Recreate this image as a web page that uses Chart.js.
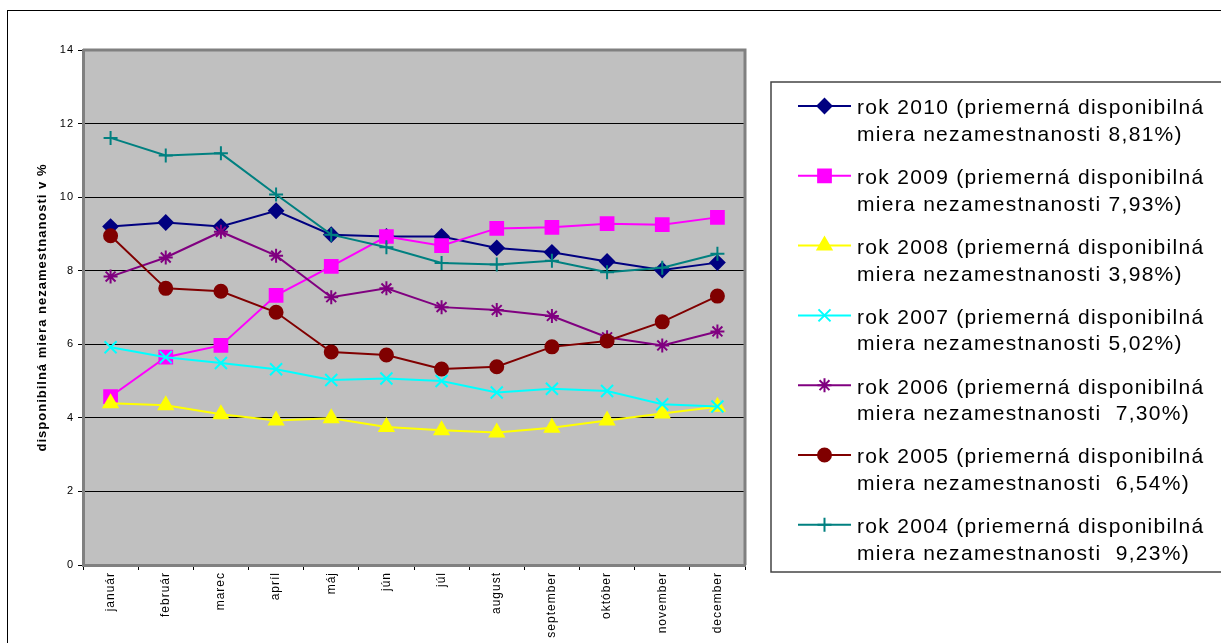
<!DOCTYPE html>
<html>
<head>
<meta charset="utf-8">
<script src="https://cdn.jsdelivr.net/npm/chart.js"></script>
<style>
    html, body { margin: 0; padding: 0; background: #fff; overflow: hidden; }
    #wrap { position: relative; width: 1221px; height: 643px; overflow: hidden; }
    #frame { position: absolute; left: 7px; top: 10px; width: 1300px; height: 700px; border: 1px solid #000; }
    #chart { position: absolute; left: 0; top: 0; }
</style>
</head>
<body>
<div id="wrap">
    <div id="frame"></div>
    <canvas id="chart" width="1221" height="643"></canvas>
</div>
<script>
const FONT = '"Liberation Sans", Arial, sans-serif';

const months = ['január', 'február', 'marec', 'apríl', 'máj', 'jún', 'júl', 'august', 'september', 'október', 'november', 'december'];

const rok2010 = [9.20, 9.31, 9.20, 9.63, 8.98, 8.93, 8.93, 8.62, 8.50, 8.25, 8.02, 8.22];
const rok2009 = [4.58, 5.65, 5.97, 7.33, 8.12, 8.93, 8.68, 9.15, 9.18, 9.28, 9.25, 9.45];
const rok2008 = [4.40, 4.34, 4.10, 3.93, 3.99, 3.75, 3.66, 3.60, 3.73, 3.93, 4.12, 4.30];
const rok2007 = [5.92, 5.65, 5.49, 5.32, 5.03, 5.07, 5.00, 4.69, 4.79, 4.73, 4.37, 4.31];
const rok2006 = [7.84, 8.36, 9.06, 8.41, 7.28, 7.52, 7.01, 6.93, 6.77, 6.19, 5.97, 6.35];
const rok2005 = [8.95, 7.52, 7.44, 6.87, 5.79, 5.71, 5.33, 5.39, 5.93, 6.09, 6.61, 7.31];
const rok2004 = [11.61, 11.13, 11.19, 10.07, 8.98, 8.64, 8.21, 8.17, 8.27, 7.96, 8.08, 8.46];

const seriesData = [rok2010, rok2009, rok2008, rok2007, rok2006, rok2005, rok2004];

const legendLabels = [
    ['rok 2010 (priemerná disponibilná', 'miera nezamestnanosti 8,81%)'],
    ['rok 2009 (priemerná disponibilná', 'miera nezamestnanosti 7,93%)'],
    ['rok 2008 (priemerná disponibilná', 'miera nezamestnanosti 3,98%)'],
    ['rok 2007 (priemerná disponibilná', 'miera nezamestnanosti 5,02%)'],
    ['rok 2006 (priemerná disponibilná', 'miera nezamestnanosti  7,30%)'],
    ['rok 2005 (priemerná disponibilná', 'miera nezamestnanosti  6,54%)'],
    ['rok 2004 (priemerná disponibilná', 'miera nezamestnanosti  9,23%)']
];

const yTitle = 'disponibilná miera nezamestnanosti v %';

// styles
const colors = ['#000080', '#ff00ff', '#ffff00', '#00ffff', '#800080', '#800000', '#008080'];
const markers = ['rectRot', 'rect', 'triangle', 'crossRot', 'star', 'circle', 'cross'];
const markerSize = [7, 9, 8, 8.5, 7, 6.5, 7];

const datasets = seriesData.map((d, i) => ({
    label: legendLabels[i].join(' '),
    data: d,
    borderColor: colors[i],
    backgroundColor: colors[i],
    pointBackgroundColor: colors[i],
    pointBorderColor: colors[i],
    pointStyle: markers[i],
    pointRadius: markerSize[i],
    pointBorderWidth: 2,
    borderWidth: 2,
    tension: 0,
    order: seriesData.length - i
}));

const plotFrame = {
    id: 'plotFrame',
    beforeDraw(chart) {
        const { ctx, chartArea: a } = chart;
        ctx.letterSpacing = '1px';
        ctx.save();
        ctx.fillStyle = '#c0c0c0';
        ctx.fillRect(a.left, a.top, a.right - a.left, a.bottom - a.top);
        ctx.restore();
    },
    beforeDatasetsDraw(chart) {
        const { ctx, chartArea: a } = chart;
        ctx.save();
        ctx.strokeStyle = '#808080';
        ctx.lineWidth = 3;
        ctx.beginPath();
        ctx.moveTo(a.left, a.top);
        ctx.lineTo(a.right, a.top);
        ctx.lineTo(a.right, a.bottom);
        ctx.stroke();
        ctx.restore();
    }
};

const sideLegend = {
    id: 'sideLegend',
    afterDraw(chart) {
        const ctx = chart.ctx;
        ctx.save();
        ctx.letterSpacing = '0px';
        ctx.strokeStyle = '#444';
        ctx.lineWidth = 1.5;
        ctx.strokeRect(771, 82, 500, 490);

        chart.data.datasets.forEach((ds, i) => {
            const y = 106 + 69.8 * i;
            ctx.strokeStyle = ds.borderColor;
            ctx.fillStyle = ds.borderColor;
            ctx.lineWidth = 2;
            ctx.beginPath();
            ctx.moveTo(798, y);
            ctx.lineTo(851, y);
            ctx.stroke();
            Chart.helpers.drawPoint(ctx, {
                pointStyle: ds.pointStyle,
                radius: ds.pointRadius,
                rotation: 0,
                borderWidth: 2
            }, 824.5, y);

            ctx.fillStyle = '#000';
            ctx.font = '21px ' + FONT;
            ctx.letterSpacing = '1.3px';
            ctx.textAlign = 'left';
            ctx.textBaseline = 'alphabetic';
            ctx.fillText(legendLabels[i][0], 857, 114.3 + 69.8 * i);
            ctx.fillText(legendLabels[i][1], 857, 141 + 69.8 * i);
            ctx.letterSpacing = '0px';
        });
        ctx.restore();
    }
};

new Chart(document.getElementById('chart'), {
    type: 'line',
    data: { labels: months, datasets: datasets },
    options: {
        responsive: false,
        animation: false,
        devicePixelRatio: 1,
        layout: { padding: { top: 50, right: 476, bottom: 0, left: 0 } },
        plugins: {
            legend: { display: false },
            tooltip: { enabled: false }
        },
        scales: {
            x: {
                offset: true,
                grid: { display: true, drawOnChartArea: false, drawTicks: true, tickLength: 5, tickColor: '#000', offset: true },
                border: { color: '#808080', width: 3 },
                ticks: {
                    minRotation: 90, maxRotation: 90, autoSkip: false, color: '#000', padding: 2,
                    font: { family: FONT, size: 12 }
                },
                afterFit: s => { s.height = 78; }
            },
            y: {
                min: 0,
                max: 14,
                ticks: { stepSize: 2, color: '#000', padding: 4, font: { family: FONT, size: 11 } },
                grid: {
                    color: c => (c.tick && c.tick.value === 14) ? 'rgba(0,0,0,0)' : '#000',
                    tickColor: '#000',
                    tickLength: 5,
                    lineWidth: 1
                },
                border: { color: '#808080', width: 3 },
                title: {
                    display: true,
                    text: yTitle,
                    color: '#000',
                    font: { family: FONT, size: 13, weight: 'bold' },
                    padding: { top: 35, bottom: 0 }
                },
                afterFit: s => { s.width = 83; }
            }
        }
    },
    plugins: [plotFrame, sideLegend]
});
</script>
</body>
</html>
